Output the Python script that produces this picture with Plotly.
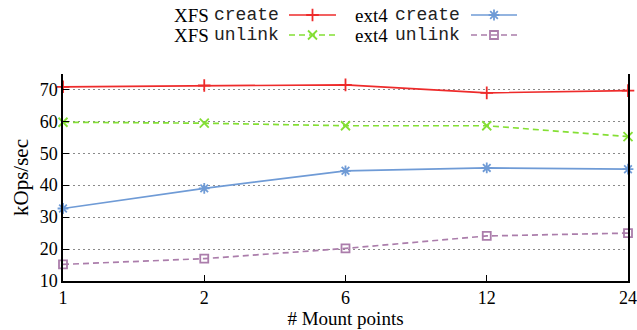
import plotly.graph_objects as go

# ---- data ----
mount_points = ["1", "2", "6", "12", "24"]
xfs_create = [70.8, 71.2, 71.4, 68.9, 69.6]
xfs_unlink = [59.7, 59.4, 58.6, 58.6, 55.2]
ext4_create = [32.7, 39.0, 44.5, 45.4, 45.0]
ext4_unlink = [15.2, 17.0, 20.2, 24.1, 25.0]
y_ticks = [10, 20, 30, 40, 50, 60, 70]

series_fs = ["XFS", "XFS", "ext4", "ext4"]
series_op = ["create", "unlink", "create", "unlink"]
series_vals = [xfs_create, xfs_unlink, ext4_create, ext4_unlink]

# ---- styles ----
colors = ["#ee2b2b", "#84df34", "#6f9bd6", "#ab7dab"]
dashes = ["solid", "6px,4px", "solid", "6px,4px"]
symbols = ["cross-thin-open", "x-thin-open", "asterisk-open", "square-open"]
msizes = [9, 9, 9, 8]

SERIF = "Liberation Serif"
MONO = "Liberation Mono"

fig = go.Figure()

for vals, c, d, s, ms in zip(series_vals, colors, dashes, symbols, msizes):
    fig.add_trace(go.Scatter(
        x=mount_points, y=vals, mode="lines+markers",
        line=dict(color=c, width=1.7, dash=d),
        marker=dict(symbol=s, size=ms, color=c, line=dict(color=c, width=1.8)),
        showlegend=False, cliponaxis=False,
    ))

# ---- custom legend (text left, sample right), drawn on a helper pixel-like axis ----
leg_rows = [-15, -35, -15, -35]
leg_fs_right = [210, 210, 389, 389]
leg_op_left = [213, 213, 394, 394]
leg_line_x = [[289, 336], [289, 336], [471, 517], [471, 517]]
for i in range(4):
    x0, x1 = leg_line_x[i]
    y = leg_rows[i]
    fig.add_trace(go.Scatter(
        x=[x0, x1], y=[y, y], mode="lines", xaxis="x2", yaxis="y2",
        line=dict(color=colors[i], width=1.7, dash=dashes[i]),
        showlegend=False, hoverinfo="skip",
    ))
    fig.add_trace(go.Scatter(
        x=[(x0 + x1) / 2], y=[y], mode="markers", xaxis="x2", yaxis="y2",
        marker=dict(symbol=symbols[i], size=msizes[i], color=colors[i],
                    line=dict(color=colors[i], width=1.8)),
        showlegend=False, hoverinfo="skip",
    ))
    fig.add_annotation(
        x=leg_fs_right[i], y=y, xref="x2", yref="y2",
        xanchor="right", yanchor="middle", showarrow=False, borderpad=0,
        text=series_fs[i],
        font=dict(family=SERIF, size=19, color="black"),
    )
    fig.add_annotation(
        x=leg_op_left[i], y=y, xref="x2", yref="y2",
        xanchor="left", yanchor="middle", showarrow=False, borderpad=0,
        text=series_op[i],
        font=dict(family=MONO, size=18, color="#222222"),
    )

W, H = 637, 330
ml, mr, mt, mb = 63, 9, 5, 49
plot_h = H - mt - mb  # 276
main_top_px = 74
main_dom_top = (H - mb - main_top_px) / plot_h

fig.update_layout(
    width=W, height=H,
    margin=dict(l=ml, r=mr, t=mt, b=mb, autoexpand=False),
    paper_bgcolor="white", plot_bgcolor="white",
    font=dict(family=SERIF, size=18, color="black"),
    xaxis=dict(
        type="category", range=[0, 4],
        showgrid=False, showline=True, linecolor="black", linewidth=1.5,
        ticks="inside", ticklen=6, tickcolor="black", tickwidth=1,
        title=dict(text="# Mount points", font=dict(size=19), standoff=2),
        zeroline=False,
    ),
    yaxis=dict(
        domain=[0, main_dom_top], range=[10, 74.8],
        tickvals=y_ticks,
        showgrid=True, gridcolor="#8a8a8a", griddash="2px,3px", gridwidth=1,
        showline=True, mirror=True, linecolor="black", linewidth=1.5,
        ticks="inside", ticklen=6, tickcolor="black", tickwidth=1,
        title=dict(text="kOps/sec", font=dict(size=21), standoff=5),
        zeroline=False,
    ),
    xaxis2=dict(domain=[0, 1], range=[ml, W - mr], visible=False,
                anchor="y2", fixedrange=True),
    yaxis2=dict(domain=[0.80, 1.0],
                range=[-(H - mb - 0.80 * plot_h), -mt],
                visible=False, anchor="x2", fixedrange=True),
)

fig.write_html("out.html", config={"displayModeBar": False},
               post_script="document.body.style.margin='0px';document.body.style.padding='0px';")
